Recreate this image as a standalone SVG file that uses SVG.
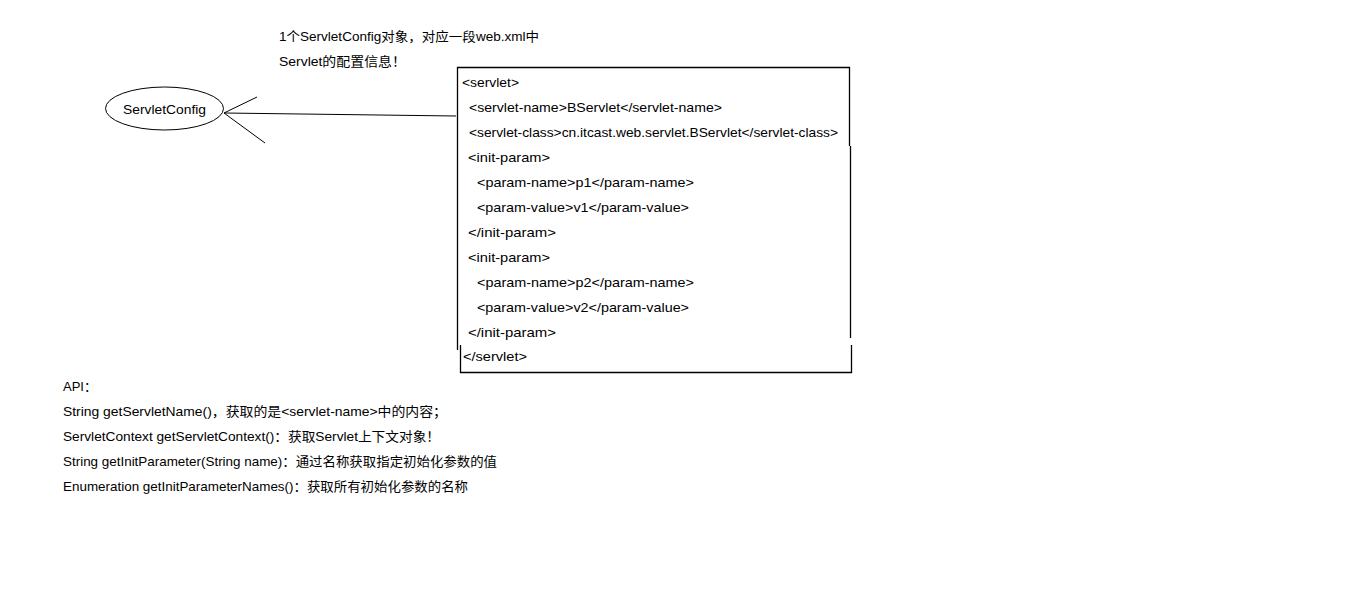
<svg xmlns="http://www.w3.org/2000/svg" width="1360" height="605" viewBox="0 0 1360 605">
<style>
text{font-family:"Liberation Sans","Noto Sans CJK SC",sans-serif;font-size:13px;fill:#000}
.ln{stroke:#000;stroke-width:1;fill:none}
.bx{stroke:#000;stroke-width:1.3;fill:none}
</style>
<rect width="1360" height="605" fill="#fff"/>
<g id="note">
<text x="279" y="41" textLength="260" lengthAdjust="spacingAndGlyphs">1个ServletConfig对象，对应一段web.xml中</text>
<text x="279" y="66" textLength="127" lengthAdjust="spacingAndGlyphs">Servlet的配置信息！</text>
</g>
<g id="servletconfig">
<ellipse cx="164.5" cy="108.5" rx="59" ry="21.5" class="ln"/>
<text x="123" y="114" textLength="83" lengthAdjust="spacingAndGlyphs">ServletConfig</text>
</g>
<g id="connectors">
<line x1="224" y1="113" x2="456" y2="116" class="ln"/>
<line x1="224" y1="113" x2="257" y2="97" class="ln"/>
<line x1="224" y1="113" x2="265" y2="143" class="ln"/>
</g>
<g id="webxml">
<polyline points="457.5,350 457.5,67.5 849.5,67.5 849.5,146" class="bx"/>
<line x1="850.5" y1="146" x2="850.5" y2="338" class="bx"/>
<polyline points="460.5,345 460.5,372.5 851.5,372.5 851.5,345" class="bx"/>
<text x="462" y="87" textLength="57" lengthAdjust="spacingAndGlyphs">&lt;servlet&gt;</text>
<text x="469" y="112" textLength="253" lengthAdjust="spacingAndGlyphs">&lt;servlet-name&gt;BServlet&lt;/servlet-name&gt;</text>
<text x="469" y="137" textLength="369" lengthAdjust="spacingAndGlyphs">&lt;servlet-class&gt;cn.itcast.web.servlet.BServlet&lt;/servlet-class&gt;</text>
<text x="468" y="162" textLength="82" lengthAdjust="spacingAndGlyphs">&lt;init-param&gt;</text>
<text x="477" y="187" textLength="217" lengthAdjust="spacingAndGlyphs">&lt;param-name&gt;p1&lt;/param-name&gt;</text>
<text x="477" y="212" textLength="212" lengthAdjust="spacingAndGlyphs">&lt;param-value&gt;v1&lt;/param-value&gt;</text>
<text x="468" y="237" textLength="88" lengthAdjust="spacingAndGlyphs">&lt;/init-param&gt;</text>
<text x="468" y="262" textLength="82" lengthAdjust="spacingAndGlyphs">&lt;init-param&gt;</text>
<text x="477" y="287" textLength="217" lengthAdjust="spacingAndGlyphs">&lt;param-name&gt;p2&lt;/param-name&gt;</text>
<text x="477" y="312" textLength="212" lengthAdjust="spacingAndGlyphs">&lt;param-value&gt;v2&lt;/param-value&gt;</text>
<text x="468" y="337" textLength="88" lengthAdjust="spacingAndGlyphs">&lt;/init-param&gt;</text>
<text x="463" y="361" textLength="64" lengthAdjust="spacingAndGlyphs">&lt;/servlet&gt;</text>
</g>
<g id="api">
<text x="63" y="391" textLength="34" lengthAdjust="spacingAndGlyphs">API：</text>
<text x="63" y="416" textLength="384" lengthAdjust="spacingAndGlyphs">String getServletName()，获取的是&lt;servlet-name&gt;中的内容；</text>
<text x="63" y="441" textLength="377" lengthAdjust="spacingAndGlyphs">ServletContext getServletContext()：获取Servlet上下文对象！</text>
<text x="63" y="466" textLength="434" lengthAdjust="spacingAndGlyphs">String getInitParameter(String name)：通过名称获取指定初始化参数的值</text>
<text x="63" y="491" textLength="405" lengthAdjust="spacingAndGlyphs">Enumeration getInitParameterNames()：获取所有初始化参数的名称</text>
</g>
</svg>
